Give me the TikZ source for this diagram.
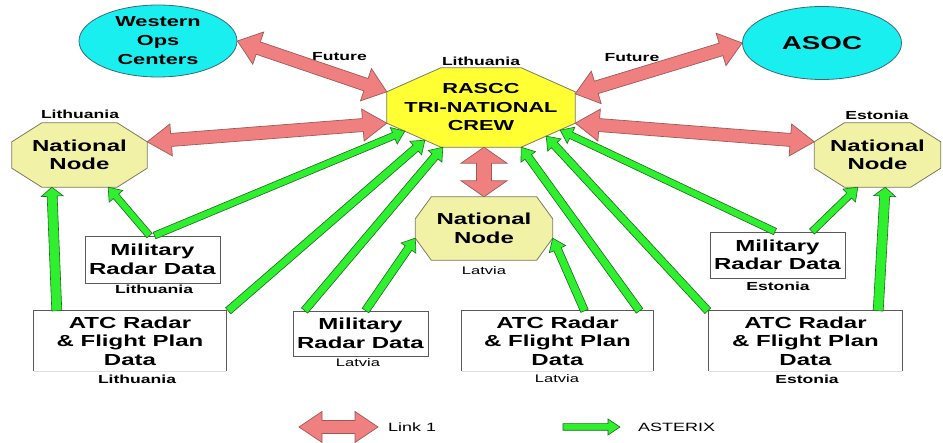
\documentclass[tikz,border=0pt]{standalone}
\usepackage{fontspec}
\setmainfont{Liberation Sans}[FakeStretch=1.5]
\usetikzlibrary{calc,shapes.geometric,backgrounds}

\definecolor{linkpink}{HTML}{F08080}
\definecolor{linkedge}{HTML}{A05858}
\definecolor{astgreen}{HTML}{2EF02E}
\definecolor{astedge}{HTML}{1E6A1E}
\definecolor{opscyan}{HTML}{1AEFEF}
\definecolor{opsedge}{HTML}{3A6A78}
\definecolor{crewyellow}{HTML}{FFFF33}
\definecolor{nodepale}{HTML}{F2F2A6}
\definecolor{octline}{HTML}{7A7A60}
\definecolor{boxedge}{HTML}{5A5A5A}

\newcommand\fntnode{\fontsize{16}{18.5}\selectfont\bfseries}
\newcommand\fntcrew{\fontsize{14.5}{18.5}\selectfont\bfseries}
\newcommand\fntops{\fontsize{14.5}{19}\selectfont\bfseries}
\newcommand\fntasoc{\fontsize{18.5}{20}\selectfont\bfseries}
\newcommand\fntlabel{\fontsize{11.7}{13}\selectfont\bfseries}
\newcommand\fntlabelreg{\fontsize{11}{13}\selectfont}
\newcommand\fntlegend{\fontsize{12}{14}\selectfont}

% broad double-headed Link 1 arrow:
% start, end, half shaft width, half head width, head length
\newcommand\linkarrow[5]{%
  \path (#1) coordinate (la-s) (#2) coordinate (la-e);
  \path ($(la-s)!#5pt!(la-e)$) coordinate (la-a) ($(la-e)!#5pt!(la-s)$) coordinate (la-b);
  \draw[linkbody] (la-s) -- ($(la-a)!#4pt!90:(la-e)$) -- ($(la-a)!#3pt!90:(la-e)$)
    -- ($(la-b)!#3pt!-90:(la-s)$) -- ($(la-b)!#4pt!-90:(la-s)$) -- (la-e)
    -- ($(la-b)!#4pt!90:(la-s)$) -- ($(la-b)!#3pt!90:(la-s)$)
    -- ($(la-a)!#3pt!-90:(la-e)$) -- ($(la-a)!#4pt!-90:(la-e)$) -- cycle;}

% single-headed ASTERIX feed arrow:
% tail, tip, half shaft width, half head width, head length
\newcommand\asxarrow[5]{%
  \path (#1) coordinate (ga-s) (#2) coordinate (ga-e);
  \path ($(ga-e)!#5pt!(ga-s)$) coordinate (ga-h);
  \draw[asxbody] ($(ga-s)!#3pt!90:(ga-e)$) -- ($(ga-h)!#3pt!-90:(ga-s)$)
    -- ($(ga-h)!#4pt!-90:(ga-s)$) -- (ga-e) -- ($(ga-h)!#4pt!90:(ga-s)$)
    -- ($(ga-h)!#3pt!90:(ga-s)$) -- ($(ga-s)!#3pt!-90:(ga-e)$) -- cycle;}

% octagonal outline around a rectangular node: node, chamfer x, chamfer y, fill
\newcommand\octoutline[4]{%
  \draw[octedge, fill=#4] ($(#1.north west)+(#2,0)$) -- ($(#1.north east)+(-#2,0)$)
    -- ($(#1.north east)+(0,#3)$) -- ($(#1.south east)+(0,-#3)$)
    -- ($(#1.south east)+(-#2,0)$) -- ($(#1.south west)+(#2,0)$)
    -- ($(#1.south west)+(0,-#3)$) -- ($(#1.north west)+(0,#3)$) -- cycle;}

\begin{document}
\begin{tikzpicture}[x=1pt, y=-1pt,
  linkbody/.style={fill=linkpink, draw=linkedge, line width=0.7pt, line join=miter},
  asxbody/.style={fill=astgreen, draw=astedge, line width=0.6pt, line join=miter},
  octedge/.style={draw=octline, line width=0.8pt},
  octbase/.style={rectangle, inner sep=0pt, align=center, text=black},
  opsnode/.style={ellipse, fill=opscyan, draw=opsedge, line width=0.8pt,
    inner sep=0pt, align=center, text=black},
  databox/.style={rectangle, inner sep=0pt, align=center, fill=white,
    font=\fntnode, text=black},
  boxline/.style={draw=boxedge, line width=0.9pt},
  lbl/.style={inner sep=0pt, font=\fntlabel, text=black},
  lblreg/.style={inner sep=0pt, font=\fntlabelreg, text=black},
  legendtext/.style={inner sep=0pt, anchor=west, font=\fntlegend, text=black}]

\begin{pgfonlayer}{background}
  \fill[white] (0,0) rectangle (943,443);
\end{pgfonlayer}
\path[use as bounding box] (0,0) rectangle (943,443);

% operations centres
\node[opsnode, minimum width=158pt, minimum height=72pt, font=\fntops]
  (wops) at (158,41) {Western\\Ops\\Centers};
\node[opsnode, minimum width=159pt, minimum height=73pt, font=\fntasoc]
  (asoc) at (822,43) {ASOC};

% octagonal centres
\node[octbase, minimum width=188pt, minimum height=79pt, font=\fntcrew]
  (rascc) at (481,107.5) {RASCC\\TRI-NATIONAL\\CREW};
\node[octbase, minimum width=135pt, minimum height=64pt, font=\fntnode]
  (ltnn) at (79.5,155) {National\\Node};
\node[octbase, minimum width=126pt, minimum height=64pt, font=\fntnode]
  (eenn) at (877.5,155) {National\\Node};
\node[octbase, minimum width=137pt, minimum height=63pt, font=\fntnode]
  (lvnn) at (484,228.5) {National\\Node};

\begin{pgfonlayer}{background}
  \octoutline{rascc}{54}{24}{crewyellow}
  \octoutline{ltnn}{30}{19}{nodepale}
  \octoutline{eenn}{30}{19}{nodepale}
  \octoutline{lvnn}{16}{22}{nodepale}
\end{pgfonlayer}

% data sources
\node[databox, boxline, minimum width=135pt, minimum height=47pt]
  (miltl) at (152.5,259.5) {Military\\Radar Data};
\node[databox, minimum width=192pt, minimum height=60pt]
  (atclt) at (130,341) {ATC Radar\\\& Flight Plan\\Data};
\node[databox, boxline, minimum width=135pt, minimum height=45pt]
  (millv) at (360.5,333.5) {Military\\Radar Data};
\node[databox, minimum width=191pt, minimum height=60pt]
  (atclv) at (557.5,341) {ATC Radar\\\& Flight Plan\\Data};
\node[databox, minimum width=193pt, minimum height=60pt]
  (atcee) at (805.5,341) {ATC Radar\\\& Flight Plan\\Data};
\node[databox, boxline, minimum width=135pt, minimum height=46pt]
  (milee) at (777.5,255) {Military\\Radar Data};

% ATC boxes are open at the bottom
\foreach \b in {atclt, atclv, atcee} {
  \draw[boxline] (\b.south west) |- (\b.north east) -- (\b.south east);
  \draw[draw=boxedge!20, line width=0.6pt] (\b.south west) -- (\b.south east);
}

% country and link labels
\node[lbl] (lblrascc) at (481,61) {Lithuania};
\node[lbl] (lblltnn) at (80,114) {Lithuania};
\node[lbl] (lbleenn) at (877,115) {Estonia};
\node[lblreg] (lbllvnn) at (484,271) {Latvia};
\node[lbl] (lblmiltl) at (154,289) {Lithuania};
\node[lbl] (lblatclt) at (137,379) {Lithuania};
\node[lblreg] (lblmillv) at (358,363) {Latvia};
\node[lblreg] (lblatclv) at (557,379) {Latvia};
\node[lbl] (lblatcee) at (807,379) {Estonia};
\node[lbl] (lblmilee) at (778,286) {Estonia};
\node[lbl] (futl) at (339.5,57) {Future};
\node[lbl] (futr) at (632,58) {Future};

% Link 1 connections
\linkarrow{wops.east}{$(rascc.north west)+(0,24)$}{6.5}{17}{22}
\linkarrow{$(ltnn.north east)+(0,19)$}{$(rascc.south west)+(0,-24)$}{6.5}{16}{24}
\linkarrow{$(rascc.north east)+(0,26)$}{asoc.west}{6.5}{17}{22}
\linkarrow{$(rascc.south east)+(0,-24)$}{$(eenn.north west)+(0,19)$}{6.5}{16}{24}
\linkarrow{rascc.south -| lvnn.north}{lvnn.north}{7.5}{23}{16}

% ASTERIX feeds
\asxarrow{$(atclt.north west)+(23,0)$}{$(ltnn.south west)+(40,0)$}{5}{11}{9}
\asxarrow{$(miltl.north)+(-3,0)$}{$(ltnn.south east)+(-39,0)$}{3.5}{9}{12}
\asxarrow{$(miltl.north)+(2,0)$}{$(rascc.south west)+(18,-16)$}{3.5}{9}{12}
\asxarrow{$(atclt.north east)+(2,0)$}{$(rascc.south west)+(38,-7)$}{4}{9}{12}
\asxarrow{$(millv.north west)+(12,0)$}{$(rascc.south west)+(56,0)$}{4}{9}{12}
\asxarrow{$(millv.north)+(5,0)$}{$(lvnn.south west)+(0,-22)$}{4}{9}{12}
\asxarrow{$(atclv.north)+(27,0)$}{$(lvnn.south east)+(0,-22)$}{4}{9}{12}
\asxarrow{$(atclv.north)+(82,0)$}{$(rascc.south east)+(-54,0)$}{4}{9}{12}
\asxarrow{$(atcee.north west)+(-1,0)$}{$(rascc.south east)+(-29,-11)$}{4}{9}{12}
\asxarrow{$(milee.north)+(-2.5,0)$}{$(rascc.south east)+(-15,-17)$}{3.5}{9}{12}
\asxarrow{$(milee.north)+(34.5,0)$}{$(eenn.south west)+(43.5,0)$}{3.5}{9}{12}
\asxarrow{$(atcee.north east)+(-24,0)$}{$(eenn.south east)+(-55.5,0)$}{5}{11}{9}

% legend
\coordinate (lkleft) at (299,427);
\coordinate (lkright) at (378,427);
\linkarrow{lkleft}{lkright}{6.5}{15.5}{23}
\node[legendtext] (lktext) at (388,427) {Link 1};
\coordinate (asxtail) at (563,427);
\coordinate (asxtip) at (620,427);
\asxarrow{asxtail}{asxtip}{3.3}{8}{12}
\node[legendtext] (asxtext) at (638,427) {ASTERIX};

\end{tikzpicture}
\end{document}
